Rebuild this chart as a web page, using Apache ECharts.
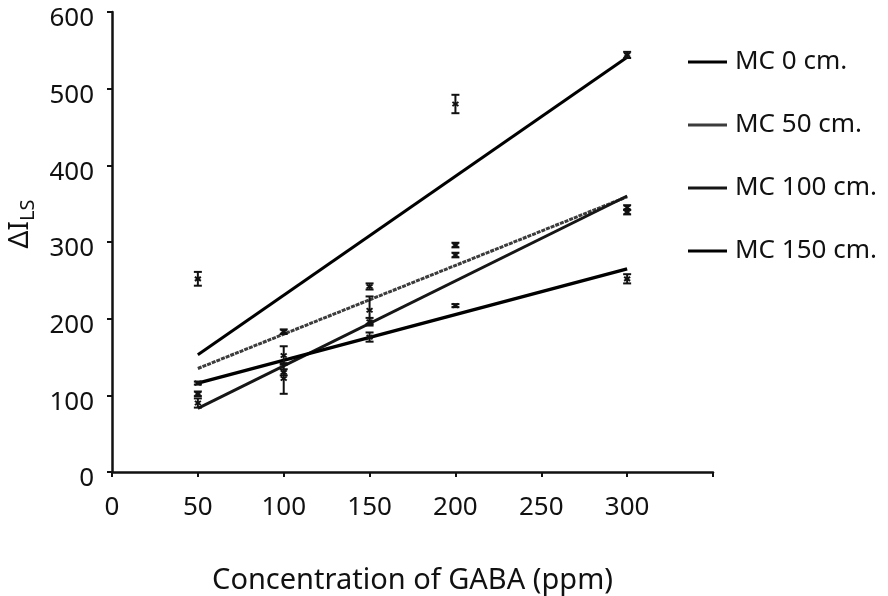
<!DOCTYPE html>
<html>
<head>
<meta charset="utf-8">
<script src="https://cdn.jsdelivr.net/npm/echarts@6/dist/echarts.min.js"></script>
<style>html,body{margin:0;padding:0;background:#fff;}#c{width:888px;height:596px;}</style>
</head>
<body>
<div id="c"></div>
<script>
const concentrations = [50, 100, 150, 200, 300];
const xTickLabels = ['0', '50', '100', '150', '200', '250', '300'];
const yTickLabels = ['0', '100', '200', '300', '400', '500', '600'];
const seriesNames = ['MC 0 cm.', 'MC 50 cm.', 'MC 100 cm.', 'MC 150 cm.'];

const mc0Mean = [252, 130, 196, 480, 544];
const mc0Err = [9, 4, 5, 12, 4];
const mc50Mean = [102, 183, 242, 296, 345];
const mc50Err = [3, 3, 4, 3, 3];
const mc100Mean = [90, 122, 211, 283, 339];
const mc100Err = [6, 20, 18, 3, 3];
const mc150Mean = [116, 152, 176, 217, 252];
const mc150Err = [2, 12, 6, 2, 6];

// fitted trend line values read at x = 50 and x = 300
const trendX = [50, 300];
const mc0Trend = [153, 541];
const mc50Trend = [135, 359];
const mc100Trend = [83, 360];
const mc150Trend = [116, 265];

const means = [mc0Mean, mc50Mean, mc100Mean, mc150Mean];
const errs = [mc0Err, mc50Err, mc100Err, mc150Err];
const trends = [mc0Trend, mc50Trend, mc100Trend, mc150Trend];
const lineColors = ['#000', '#3c3c3c', '#161616', '#000'];
const lineWidths = [3, 3, 3, 3.5];
const lineTypes = ['solid', [4, 1], 'solid', 'solid'];

const FONT = '"Noto Sans", "Open Sans", sans-serif';

const series = [];
seriesNames.forEach((name, i) => {
  series.push({
    name: name,
    type: 'line',
    data: trendX.map((x, k) => [x, trends[i][k]]),
    showSymbol: false,
    symbol: 'none',
    lineStyle: { color: lineColors[i], width: lineWidths[i], type: lineTypes[i] },
    itemStyle: { color: lineColors[i] },
    z: 3,
    silent: true
  });
  series.push({
    name: name + ' SD',
    type: 'custom',
    data: concentrations.map((x, k) => [x, means[i][k] - errs[i][k], means[i][k] + errs[i][k], means[i][k]]),
    renderItem: function (params, api) {
      const x = api.value(0);
      const lo = api.coord([x, api.value(1)]);
      const hi = api.coord([x, api.value(2)]);
      const mid = api.coord([x, api.value(3)]);
      const hw = 4;
      const st = { stroke: '#111', lineWidth: 2, fill: null };
      return {
        type: 'group',
        children: [
          { type: 'line', shape: { x1: lo[0], y1: lo[1], x2: hi[0], y2: hi[1] }, style: st },
          { type: 'line', shape: { x1: lo[0] - hw, y1: lo[1], x2: lo[0] + hw, y2: lo[1] }, style: st },
          { type: 'line', shape: { x1: hi[0] - hw, y1: hi[1], x2: hi[0] + hw, y2: hi[1] }, style: st },
          { type: 'line', shape: { x1: mid[0] - 3, y1: mid[1] - 2, x2: mid[0] + 3, y2: mid[1] + 2 }, style: { stroke: '#111', lineWidth: 2 } },
          { type: 'line', shape: { x1: mid[0] - 3, y1: mid[1] + 2, x2: mid[0] + 3, y2: mid[1] - 2 }, style: { stroke: '#111', lineWidth: 2 } }
        ]
      };
    },
    z: 4,
    silent: true
  });
});

const chart = echarts.init(document.getElementById('c'), null, { renderer: 'canvas' });
chart.setOption({
  animation: false,
  backgroundColor: '#fff',
  grid: { left: 112, right: 175, top: 12, bottom: 124, containLabel: false, outerBoundsMode: 'none' },
  legend: {
    data: seriesNames.map(n => ({ name: n, icon: 'rect' })),
    orient: 'vertical',
    left: 683,
    top: 43,
    itemWidth: 39,
    itemHeight: 3,
    itemGap: 35,
    selectedMode: false,
    textStyle: { fontFamily: FONT, fontSize: 26, color: '#111', lineHeight: 28, padding: [0, 0, 0, 3] }
  },
  xAxis: {
    type: 'value',
    min: 0,
    max: 350,
    interval: 50,
    axisLine: { show: true, onZero: false, lineStyle: { color: '#111', width: 2.5 } },
    axisTick: { show: true, inside: false, length: 5, lineStyle: { color: '#111', width: 2 } },
    splitLine: { show: false },
    axisLabel: {
      margin: 23,
      fontFamily: FONT,
      fontSize: 26,
      color: '#111',
      formatter: function (v) { const idx = Math.round(v / 50); return idx < xTickLabels.length ? xTickLabels[idx] : ''; }
    },
    name: 'Concentration of GABA (ppm)',
    nameLocation: 'middle',
    nameGap: 94,
    nameTextStyle: { fontFamily: FONT, fontSize: 29, color: '#111' }
  },
  yAxis: {
    type: 'value',
    min: 0,
    max: 600,
    interval: 100,
    axisLine: { show: true, lineStyle: { color: '#111', width: 2.5 } },
    axisTick: { show: true, inside: false, length: 5, lineStyle: { color: '#111', width: 2 } },
    splitLine: { show: false },
    axisLabel: {
      margin: 18,
      fontFamily: FONT,
      fontSize: 26,
      color: '#111',
      verticalAlign: 'top',
      lineHeight: 14,
      formatter: function (v) { return yTickLabels[Math.round(v / 100)]; }
    },
    name: '{a|ΔI}{b|LS}',
    nameLocation: 'middle',
    nameGap: 67,
    nameRotate: 90,
    nameTextStyle: {
      rich: {
        a: { fontFamily: FONT, fontSize: 28, color: '#111', verticalAlign: 'bottom', lineHeight: 34 },
        b: { fontFamily: FONT, fontSize: 20, color: '#111', verticalAlign: 'bottom', lineHeight: 24, padding: [0, 0, -4, 0] }
      },
      padding: [0, 0, 0, 36]
    }
  },
  series: series
});
</script>
</body>
</html>
